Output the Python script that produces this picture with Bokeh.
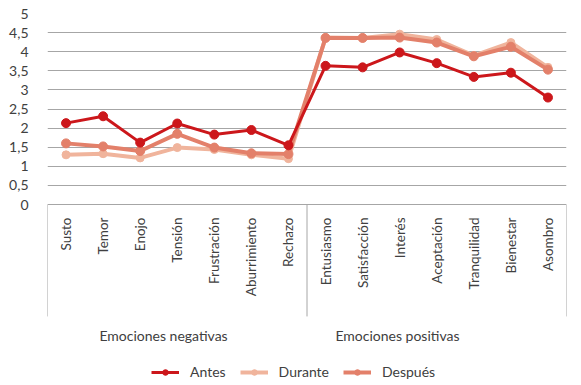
from bokeh.plotting import figure
from bokeh.models import FixedTicker, Legend, LegendItem, Range1d, ColumnDataSource
from bokeh.embed import file_html
from bokeh.resources import INLINE
from bokeh.core.properties import value

categories = ["Susto", "Temor", "Enojo", "Tensión", "Frustración", "Aburrimiento", "Rechazo",
              "Entusiasmo", "Satisfacción", "Interés", "Aceptación", "Tranquilidad", "Bienestar", "Asombro"]
groups = ["Emociones negativas", "Emociones positivas"]
group_sizes = [7, 7]
antes = [2.13, 2.31, 1.62, 2.12, 1.83, 1.95, 1.55, 3.63, 3.59, 3.98, 3.70, 3.34, 3.45, 2.80]
durante = [1.30, 1.33, 1.22, 1.49, 1.44, 1.30, 1.20, 4.37, 4.36, 4.46, 4.32, 3.90, 4.24, 3.59]
despues = [1.60, 1.52, 1.40, 1.85, 1.49, 1.34, 1.32, 4.36, 4.36, 4.37, 4.24, 3.88, 4.13, 3.53]
y_ticks = [0, 0.5, 1, 1.5, 2, 2.5, 3, 3.5, 4, 4.5, 5]
y_tick_labels = ["0", "0,5", "1", "1,5", "2", "2,5", "3", "3,5", "4", "4,5", "5"]

FONT = "Lato"
GRAY = "#a6a6a6"
TXT = "#404040"

n = len(categories)
xs = [i + 0.5 for i in range(n)]

p = figure(width=573, height=380, output_backend="svg", toolbar_location=None,
           x_axis_location=None, min_border_left=47, min_border_right=7,
           min_border_top=13, min_border_bottom=0)
p.x_range = Range1d(0, n)
p.y_range = Range1d(5 - 367 / 38.2, 5)
p.outline_line_color = None
p.background_fill_color = None
p.border_fill_color = None

p.xgrid.visible = False
p.ygrid.ticker = FixedTicker(ticks=y_ticks)
p.ygrid.grid_line_color = GRAY
p.ygrid.grid_line_width = 1

ax = p.yaxis[0]
ax.ticker = FixedTicker(ticks=y_ticks)
ax.major_label_overrides = {t: l for t, l in zip(y_ticks, y_tick_labels)}
ax.axis_line_color = None
ax.major_tick_line_color = None
ax.minor_tick_line_color = None
ax.major_label_standoff = 13
ax.major_label_text_font = FONT
ax.major_label_text_font_size = "14px"
ax.major_label_text_color = TXT

# separators of category groups
bounds = [0]
for s in group_sizes:
    bounds.append(bounds[-1] + s)
p.segment(x0=bounds, y0=[0] * len(bounds), x1=bounds, y1=[-2.93] * len(bounds),
          line_color=GRAY, line_width=1)

# category labels (rotated)
p.text(x=xs, y=[-0.34] * n, text=categories, angle=1.5708,
       text_align="right", text_baseline="middle",
       text_font=value(FONT), text_font_size="13.5px", text_color=TXT)

# group labels
p.text(x=[3.13, 9.44], y=[-3.43, -3.43], text=groups, text_align="center",
       text_baseline="middle", text_font=value(FONT), text_font_size="14px", text_color=TXT)

series = [("Antes", antes, "#cc171b", 3, 9),
          ("Durante", durante, "#f0b49c", 4, 8),
          ("Después", despues, "#e3806a", 4, 9)]
items = []
for name, vals, col, lw, ms in [series[1], series[2], series[0]]:
    src = ColumnDataSource(dict(x=xs, y=vals))
    l = p.line("x", "y", source=src, line_color=col, line_width=lw)
    s = p.scatter("x", "y", source=src, size=ms, fill_color=col, line_color=col)
    items.append((name, [l, s]))
order = {"Antes": 0, "Durante": 1, "Después": 2}
items.sort(key=lambda t: order[t[0]])

legend = Legend(items=[LegendItem(label=nm, renderers=r) for nm, r in items],
                orientation="horizontal", location=(104, 0),
                glyph_width=28, glyph_height=14, label_height=14, label_standoff=11,
                spacing=14, padding=0, margin=0,
                border_line_color=None, background_fill_alpha=0,
                label_text_font=FONT, label_text_font_size="14px", label_text_color=TXT)
p.add_layout(legend)

open("out.html", "w").write(file_html(p, INLINE))
